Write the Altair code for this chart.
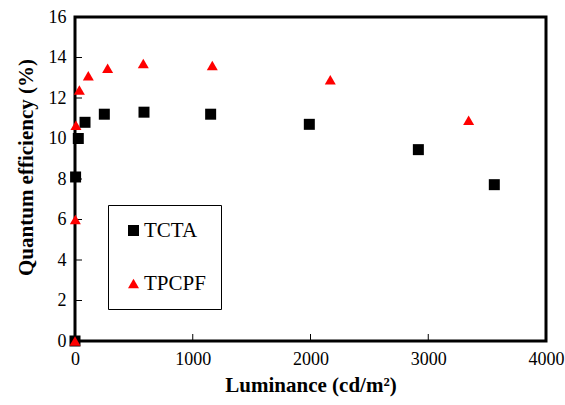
import altair as alt
import pandas as pd

tcta_x = [0, 5, 28, 85, 249, 586, 1152, 1990, 2916, 3561]
tcta_y = [0, 8.1, 10.0, 10.8, 11.2, 11.3, 11.2, 10.7, 9.45, 7.72]
tpcpf_x = [0, 3, 8, 37, 113, 277, 580, 1166, 2168, 3343]
tpcpf_y = [0, 6.0, 10.65, 12.4, 13.1, 13.47, 13.7, 13.6, 12.9, 10.9]
x_ticks = [0, 1000, 2000, 3000, 4000]
y_ticks = [0, 2, 4, 6, 8, 10, 12, 14, 16]

W, H = 471, 324
FONT = "Liberation Serif"

df = pd.DataFrame(
    [{"L": x, "Q": y, "s": "TCTA"} for x, y in zip(tcta_x, tcta_y)]
    + [{"L": x, "Q": y, "s": "TPCPF"} for x, y in zip(tpcpf_x, tpcpf_y)]
)

xs = alt.Scale(domain=[0, 4000], nice=False)
ys = alt.Scale(domain=[0, 16], nice=False)

points = alt.Chart(df).mark_point(filled=True, opacity=1, size=121).encode(
    x=alt.X("L:Q", scale=xs, axis=alt.Axis(
        title="Luminance (cd/m²)", values=x_ticks, ticks=False, domain=False, format="d",
        grid=False, labelPadding=9, titlePadding=6, labelFlush=False)),
    y=alt.Y("Q:Q", scale=ys, axis=alt.Axis(
        title="Quantum efficiency (%)", values=y_ticks, ticks=False, domain=False, format="d",
        grid=False, labelPadding=9, titlePadding=12, labelFlush=False, titleY=150)),
    color=alt.Color("s:N", scale=alt.Scale(domain=["TCTA", "TPCPF"], range=["black", "#ff0000"]),
                    legend=alt.Legend(title=None, orient="none", legendX=33, legendY=188,
                                      strokeColor="black", padding=15, rowPadding=31,
                                      symbolSize=121, labelFontSize=21, labelFont=FONT,
                                      labelColor="black",
                                      labelOffset=0, symbolStrokeWidth=0)),
    shape=alt.Shape("s:N", scale=alt.Scale(domain=["TCTA", "TPCPF"], range=["square", "triangle-up"])),
    order=alt.Order("s:N"),
)

xt = pd.DataFrame({"v": x_ticks})
yt = pd.DataFrame({"v": y_ticks})
xtick = alt.Chart(xt).mark_rule(color="black", strokeWidth=1).encode(
    x=alt.X("v:Q", scale=xs), y=alt.value(H), y2=alt.value(H - 7))
ytick = alt.Chart(yt).mark_rule(color="black", strokeWidth=1).encode(
    y=alt.Y("v:Q", scale=ys), x=alt.value(0), x2=alt.value(7))

chart = alt.layer(xtick, ytick, points).properties(
    width=W, height=H,
    padding={"left": 75, "top": 17, "right": 19, "bottom": 64},
    autosize=alt.AutoSizeParams(type="none"),
).configure_view(stroke="black", strokeWidth=3).configure_axis(
    labelFont=FONT, titleFont=FONT, labelFontSize=18, titleFontSize=21,
    labelColor="black", titleColor="black", titleFontWeight="bold",
    labelFontWeight="normal",
)

chart.save("out.html", embed_options={"renderer": "svg", "actions": False})
